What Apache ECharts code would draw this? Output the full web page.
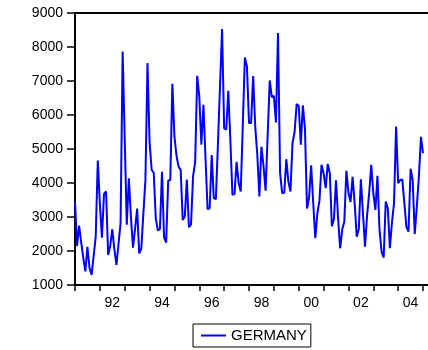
<!DOCTYPE html>
<html>
<head>
<meta charset="utf-8">
<script src="https://cdn.jsdelivr.net/npm/echarts@6/dist/echarts.min.js"></script>
<style>
  html, body { margin: 0; padding: 0; background: #ffffff; }
  #chart { width: 428px; height: 350px; }
</style>
</head>
<body>
<div id="chart"></div>
<script>
// Monthly series, starting January 1991
const seriesName = 'GERMANY';
const startYear = 1991;
const germany = [
  3450, 2150, 2750, 2250, 1800, 1400, 2120, 1500, 1300, 1850, 2420, 4660,
  3400, 2390, 3680, 3750, 1880, 2150, 2640, 2050, 1590, 2200, 2820, 7870,
  5300, 2770, 4140, 3000, 2100, 2650, 3250, 1930, 2070, 3100, 4100, 7530,
  5200, 4390, 4300, 2960, 2600, 2650, 4330, 2400, 2250, 4070, 4090, 6920,
  5370, 4800, 4480, 4390, 2914, 3012, 4100, 2700, 2780, 4200, 4610, 7155,
  6545, 5123, 6300, 4730, 3230, 3258, 4820, 3553, 3524, 5150, 6850, 8531,
  5614, 5565, 6713, 5250, 3650, 3680, 4620, 4000, 3750, 5700, 7690, 7430,
  5762, 5762, 7145, 5663, 4830, 3602, 5065, 4505, 3775, 5400, 7017, 6526,
  6565, 5781, 8410, 4289, 3700, 3710, 4700, 4040, 3750, 5170, 5500, 6320,
  6270, 5130, 6285, 5600, 3250, 3570, 4520, 3405, 2374, 3110, 3480, 4535,
  4289, 3850, 4560, 4289, 2727, 2940, 4080, 2960, 2080, 2640, 2860, 4360,
  3720, 3440, 4180, 3400, 2423, 2650, 4112, 3111, 2128, 3050, 3700, 4534,
  3700, 3209, 4210, 2620, 1982, 1800, 3454, 3258, 2080, 2840, 3405, 5662,
  3995, 4092, 4100, 3405, 2700, 2570, 4420, 4092, 2500, 3300, 4190, 5360,
  4880
];
const yearTicks = [1991, 1992, 1993, 1994, 1995, 1996, 1997, 1998, 1999, 2000, 2001, 2002, 2003, 2004, 2005];
const yearLabels = [1992, 1994, 1996, 1998, 2000, 2002, 2004];

const points = germany.map((v, i) => [startYear + i / 12, v]);

const textStyle = { fontFamily: 'Liberation Sans', fontSize: 14, color: '#000000' };
const xMin = 1991, xMax = 2005.2;

const chart = echarts.init(document.getElementById('chart'), null, { renderer: 'canvas' });
chart.setOption({
  animation: false,
  backgroundColor: '#ffffff',
  grid: { left: 75, top: 13, width: 356, height: 272 },
  legend: {
    data: [{ name: seriesName, icon: 'rect' }],
    left: 193,
    top: 324,
    itemWidth: 25,
    itemHeight: 2,
    padding: [4, 4, 4, 8],
    borderColor: '#000000',
    borderWidth: 1,
    borderRadius: 0,
    textStyle: { ...textStyle, fontSize: 15 }
  },
  xAxis: [
    {
      type: 'value',
      position: 'bottom',
      min: xMin,
      max: xMax,
      axisLine: { show: true, onZero: false, lineStyle: { color: '#000000', width: 2 } },
      axisTick: {
        show: true,
        inside: false,
        length: 6,
        customValues: yearTicks,
        lineStyle: { color: '#000000', width: 1.5 }
      },
      axisLabel: {
        show: true,
        margin: 11,
        customValues: yearLabels.map(y => y + 0.5),
        formatter: v => String(Math.floor(v) % 100).padStart(2, '0'),
        ...textStyle
      },
      splitLine: { show: false }
    },
    {
      type: 'value',
      position: 'top',
      min: xMin,
      max: xMax,
      axisLine: { show: true, onZero: false, lineStyle: { color: '#000000', width: 2 } },
      axisTick: { show: false },
      axisLabel: { show: false },
      splitLine: { show: false }
    }
  ],
  yAxis: {
    type: 'value',
    min: 1000,
    max: 9000,
    interval: 1000,
    axisLine: { show: true, lineStyle: { color: '#000000', width: 2 } },
    axisTick: { show: true, inside: false, length: 8, lineStyle: { color: '#000000', width: 1.5 } },
    axisLabel: { margin: 12, formatter: v => String(v), ...textStyle },
    splitLine: { show: false }
  },
  series: [
    {
      name: seriesName,
      type: 'line',
      xAxisIndex: 0,
      data: points,
      symbol: 'none',
      lineStyle: { color: '#0000ff', width: 2 },
      itemStyle: { color: '#0000ff' }
    }
  ]
});
</script>
</body>
</html>
